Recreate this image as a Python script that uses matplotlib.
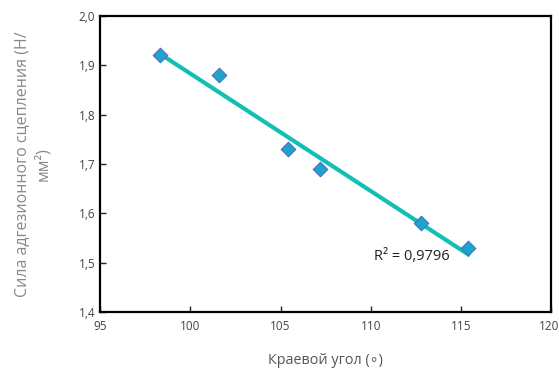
import numpy as np
import matplotlib.pyplot as plt
import matplotlib.transforms as mtransforms

# contact angle vs adhesion force
angle = [98.3, 101.6, 105.4, 107.2, 112.8, 115.4]
force = [1.92, 1.88, 1.73, 1.69, 1.58, 1.53]
x_ticks = [95, 100, 105, 110, 115, 120]
y_ticks = [1.4, 1.5, 1.6, 1.7, 1.8, 1.9, 2.0]
r2_text = "R² = 0,9796"

plt.rcParams['font.family'] = ['Open Sans', 'DejaVu Sans']

fig = plt.figure(figsize=(5.59, 3.70), dpi=100)
ax = fig.add_axes([0.179, 0.157, 0.807, 0.8])

# linear trend line
k, b = np.polyfit(angle, force, 1)
xs = np.array([min(angle), max(angle)])
ax.plot(xs, k * xs + b, color='#12BFB5', linewidth=3, zorder=2)

ax.scatter(angle, force, marker='D', s=55, facecolor='#1FA2CC',
           edgecolor='#4A72C0', linewidth=0.8, zorder=3)

ax.text(110.2, 1.506, r2_text, fontsize=10.5, color='#222222')

ax.set_xlim(95, 120)
ax.set_ylim(1.4, 2.0)
ax.set_xticks(x_ticks)
ax.set_yticks(y_ticks)
ax.set_xticklabels([str(v) for v in x_ticks])
ax.set_yticklabels([f"{v:.1f}".replace('.', ',') for v in y_ticks])
ax.tick_params(direction='in', length=4, width=1, labelsize=8.5,
               labelcolor='#444444', color='#222222')
ax.tick_params(axis='x', pad=6)

# keep last x label inside the figure
last = ax.get_xticklabels()[-1]
last.set_horizontalalignment('right')
last.set_transform(last.get_transform() +
                   mtransforms.ScaledTranslation(8 / 100, 0, fig.dpi_scale_trans))

for s in ax.spines.values():
    s.set_linewidth(1.6)
    s.set_color('black')

ax.set_xlabel("Краевой угол (∘)", fontsize=10.4, color='#555555', labelpad=14)
ax.set_ylabel("Сила адгезионного сцепления (Н/\nмм²)", fontsize=11.5,
              color='#888888', labelpad=20, linespacing=1.35)

fig.savefig('out.png', dpi=100)
